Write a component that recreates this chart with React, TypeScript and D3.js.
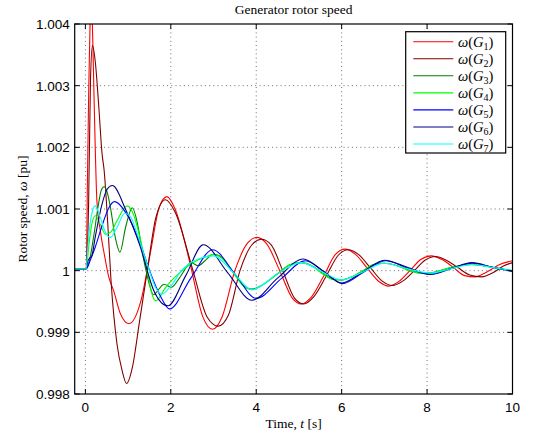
import React from "react";
import * as d3 from "d3";

const TITLE = "Generator rotor speed";
const X_TICKS = [0, 2, 4, 6, 8, 10];
const Y_TICKS = [0.998, 0.999, 1.0, 1.001, 1.002, 1.003, 1.004];
const Y_TICK_LABELS = ["0.998", "0.999", "1", "1.001", "1.002", "1.003", "1.004"];
const SERIES_NAMES = ["1", "2", "3", "4", "5", "6", "7"];
const SERIES_COLORS = ["#ff0000", "#800000", "#008000", "#00ff00", "#0000ff", "#000080", "#00ffff"];

const G1: [number, number][] = [
  [-0.25, 1.00003], [0.02, 1.00003], [0.047, 1.0014], [0.08, 1.003], [0.11, 1.004], [0.135, 1.0044],
  [0.16, 1.0041], [0.2, 1.0029], [0.27, 1.00113], [0.35, 1.00065], [0.45, 1.00024], [0.55, 0.99989],
  [0.66, 0.99968], [0.82, 0.9993], [1.02, 0.99914], [1.3, 0.99951], [1.53, 1.00032], [1.73, 1.00103],
  [1.91, 1.0012], [2.1, 1.001], [2.45, 1.00012], [2.75, 0.99925], [2.98, 0.99905], [3.2, 0.99925],
  [3.5, 1.0], [3.8, 1.00045], [4.02, 1.00054], [4.25, 1.00043], [4.55, 1.0], [4.85, 0.99955],
  [5.05, 0.99946], [5.3, 0.99958], [5.57, 0.9999], [5.85, 1.00026], [6.08, 1.00035], [6.33, 1.00026],
  [6.6, 1.00004], [6.88, 0.99982], [7.1, 0.99975], [7.35, 0.99983], [7.6, 1.0], [7.85, 1.00018],
  [8.1, 1.00024], [8.35, 1.00018], [8.62, 1.00005], [8.88, 0.99992], [9.12, 0.9999], [9.4, 0.99998],
  [9.7, 1.0001], [10, 1.00016],
];
const G2: [number, number][] = [
  [-0.25, 1.00003], [0.02, 1.00003], [0.076, 1.0011], [0.12, 1.0031], [0.166, 1.00365], [0.23, 1.0034],
  [0.31, 1.0027], [0.39, 1.0019], [0.44, 1.00162], [0.52, 1.00081], [0.6, 0.99984], [0.74, 0.99881],
  [0.86, 0.99838], [0.965, 0.99817], [1.1, 0.99843], [1.26, 0.99914], [1.46, 1.00005], [1.65, 1.00086],
  [1.875, 1.00115], [2.1, 1.00095], [2.5, 1.00005], [2.85, 0.99925], [3.11, 0.9991], [3.35, 0.99928],
  [3.62, 1.0], [3.9, 1.00042], [4.12, 1.00051], [4.35, 1.00042], [4.62, 1.0], [4.9, 0.99955],
  [5.11, 0.99946], [5.35, 0.99958], [5.63, 0.9999], [5.92, 1.00025], [6.16, 1.00034], [6.4, 1.00026],
  [6.68, 1.00004], [6.95, 0.99983], [7.19, 0.99976], [7.43, 0.99983], [7.7, 1.0], [7.95, 1.00017],
  [8.2, 1.00023], [8.45, 1.00017], [8.72, 1.00005], [9.0, 0.99993], [9.27, 0.9999], [9.55, 0.99997],
  [9.8, 1.00008], [10, 1.00013],
];
const G3: [number, number][] = [
  [-0.25, 1.00003], [0.02, 1.00003], [0.1, 1.00018], [0.2, 1.00058], [0.3, 1.00105], [0.37, 1.0013],
  [0.44, 1.00136], [0.52, 1.00125], [0.585, 1.00103], [0.7, 1.00054], [0.81, 1.0003], [0.94, 1.0007],
  [1.1, 1.00102], [1.22, 1.00076], [1.34, 1.00027], [1.42, 1.0], [1.6, 0.99961], [1.72, 0.9997],
  [1.84, 0.99978], [2.01, 0.99973], [2.2, 0.99988], [2.48, 1.00013], [2.64, 1.00008], [2.8, 1.00016],
  [3.0, 1.00027], [3.2, 1.00021], [3.45, 0.99998], [3.7, 0.99976], [3.9, 0.9997], [4.1, 0.99975],
  [4.5, 0.99995], [4.8, 1.0001], [5.05, 1.00013], [5.3, 1.00008], [5.55, 0.99996], [5.8, 0.99986],
  [6.0, 0.99985], [6.25, 0.9999], [6.5, 1.0], [6.75, 1.0001], [7.0, 1.00012], [7.3, 1.00008],
  [7.6, 1.0], [7.85, 0.99996], [8.05, 0.99996], [8.3, 1.0], [8.6, 1.00006], [9.05, 1.0001],
  [9.5, 1.00006], [10, 1.0],
];
const G4: [number, number][] = [
  [-0.25, 1.00003], [0.02, 1.00003], [0.08, 1.0004], [0.15, 1.00075], [0.23, 1.00089], [0.35, 1.00075],
  [0.47, 1.00059], [0.6, 1.00063], [0.74, 1.00081], [0.98, 1.00105], [1.1, 1.00095], [1.22, 1.0007],
  [1.34, 1.00035], [1.46, 0.99995], [1.56, 0.99962], [1.65, 0.99951], [1.75, 0.99958], [1.85, 0.9997],
  [2.09, 0.99989], [2.48, 1.00011], [2.8, 1.00022], [3.0, 1.00026], [3.2, 1.0002], [3.45, 0.99998],
  [3.7, 0.99975], [3.9, 0.99969], [4.1, 0.99975], [4.5, 0.99995], [4.8, 1.0001], [5.05, 1.00013],
  [5.3, 1.00008], [5.55, 0.99995], [5.8, 0.99986], [6.0, 0.99985], [6.25, 0.9999], [6.5, 1.0],
  [6.75, 1.0001], [7.0, 1.00012], [7.3, 1.00008], [7.6, 1.0], [7.85, 0.99996], [8.05, 0.99996],
  [8.3, 1.0], [8.6, 1.00006], [9.05, 1.0001], [9.5, 1.00006], [10, 1.0],
];
const G5: [number, number][] = [
  [-0.25, 1.00003], [0.02, 1.00003], [0.11, 1.00016], [0.23, 1.00038], [0.43, 1.00081], [0.55, 1.00102],
  [0.68, 1.00112], [1.0, 1.00088], [1.33, 1.00035], [1.53, 0.99995], [1.77, 0.99957], [1.97, 0.99938],
  [2.47, 0.99988], [2.98, 1.00034], [3.5, 0.99995], [4.0, 0.99955], [4.6, 0.99988], [5.15, 1.00016],
  [5.6, 0.99998], [6.02, 0.99979], [6.5, 0.99997], [7.02, 1.00016], [7.55, 1.00004], [8.07, 0.99994],
  [8.55, 1.00003], [9.06, 1.00012], [9.55, 1.00005], [10, 0.99999],
];
const G6: [number, number][] = [
  [-0.25, 1.00003], [0.02, 1.00003], [0.06, 1.00016], [0.11, 1.00021], [0.15, 1.00024], [0.23, 1.00054],
  [0.39, 1.00108], [0.51, 1.00132], [0.63, 1.00138], [0.95, 1.00098], [1.28, 1.0004], [1.6, 0.99968],
  [1.93, 0.99943], [2.35, 0.99992], [2.76, 1.00042], [3.33, 0.99997], [3.9, 0.99952], [4.5, 0.99988],
  [5.1, 1.00019], [5.55, 1.0], [6.0, 0.9998], [6.5, 0.99998], [7.0, 1.00017], [7.55, 1.00005],
  [8.05, 0.99994], [8.55, 1.00003], [9.05, 1.00013], [9.55, 1.00005], [10, 0.99999],
];
const G7: [number, number][] = [
  [-0.25, 1.00003], [0.02, 1.00003], [0.06, 1.0004], [0.11, 1.00076], [0.17, 1.00098], [0.23, 1.00105],
  [0.35, 1.00086], [0.47, 1.00062], [0.585, 1.00054], [0.74, 1.0007], [0.92, 1.00093], [1.05, 1.00088],
  [1.22, 1.00058], [1.46, 1.00008], [1.65, 0.99972], [1.79, 0.99962], [2.0, 0.99975], [2.25, 1.0],
  [2.64, 1.00019], [3.0, 1.00024], [3.45, 0.99998], [3.9, 0.99969], [4.5, 0.99995], [5.05, 1.00013],
  [5.55, 0.99998], [6.0, 0.99985], [6.5, 0.99998], [7.0, 1.00012], [7.55, 1.00003], [8.08, 0.99996],
  [8.55, 1.00003], [9.05, 1.0001], [9.55, 1.00005], [10, 1.0],
];
const SERIES = [G1, G2, G3, G4, G5, G6, G7];

const W = 534;
const H = 436;
const L = 74.7, R = 512.5, T = 24, B = 394;

export default function App() {
  const x = d3.scaleLinear().domain([-0.25, 10]).range([L, R]);
  const y = d3.scaleLinear().domain([0.998, 1.004]).range([B, T]);
  const line = d3
    .line<[number, number]>()
    .x((d) => x(d[0]))
    .y((d) => y(d[1]))
    .curve(d3.curveMonotoneX);
  const sans = "'Liberation Sans', Arial, sans-serif";
  const serif = "'Liberation Serif', 'DejaVu Serif', serif";
  const tickLen = 5;
  const legX = 405.7, legY = 31.7, legW = 100, legH = 121.3;
  return (
    <svg width={W} height={H} style={{ position: "absolute", left: 0, top: 0, background: "#fff" }}>
      <defs>
        <clipPath id="plotclip">
          <rect x={L} y={T} width={R - L} height={B - T} />
        </clipPath>
      </defs>
      <rect x={0} y={0} width={W} height={H} fill="#fff" />
      <g stroke="#000" strokeWidth={0.8} strokeDasharray="1,3.2" opacity={0.7}>
        {X_TICKS.filter((t) => x(t) < R - 1).map((t) => (
          <line key={"gx" + t} x1={x(t)} x2={x(t)} y1={T} y2={B} />
        ))}
        {Y_TICKS.filter((v) => y(v) > T + 1 && y(v) < B - 1).map((v) => (
          <line key={"gy" + v} x1={L} x2={R} y1={y(v)} y2={y(v)} />
        ))}
      </g>
      <g clipPath="url(#plotclip)" fill="none">
        {SERIES.map((s, i) => (
          <path key={i} d={line(s) || ""} stroke={SERIES_COLORS[i]} strokeWidth={1.1} />
        ))}
      </g>
      <rect x={L} y={T} width={R - L} height={B - T} fill="none" stroke="#000" strokeWidth={1.2} />
      <g stroke="#000" strokeWidth={1}>
        {X_TICKS.map((t) => (
          <g key={"tx" + t}>
            <line x1={x(t)} x2={x(t)} y1={B} y2={B - tickLen} />
            <line x1={x(t)} x2={x(t)} y1={T} y2={T + tickLen} />
          </g>
        ))}
        {Y_TICKS.map((v) => (
          <g key={"ty" + v}>
            <line x1={L} x2={L + tickLen} y1={y(v)} y2={y(v)} />
            <line x1={R} x2={R - tickLen} y1={y(v)} y2={y(v)} />
          </g>
        ))}
      </g>
      <g fontFamily={sans} fontSize={13.5} fill="#000">
        {X_TICKS.map((t) => (
          <text key={"lx" + t} x={x(t)} y={411.5} textAnchor="middle">
            {t}
          </text>
        ))}
        {Y_TICKS.map((v, i) => (
          <text key={"ly" + v} x={L - 5} y={y(v)} dy="0.36em" textAnchor="end">
            {Y_TICK_LABELS[i]}
          </text>
        ))}
      </g>
      <text x={(L + R) / 2} y={14} textAnchor="middle" fontFamily={serif} fontSize={13.5}>
        {TITLE}
      </text>
      <text x={(L + R) / 2} y={428} textAnchor="middle" fontFamily={serif} fontSize={13.5}>
        Time, <tspan fontStyle="italic">t</tspan> [s]
      </text>
      <text
        transform={`translate(27,${(T + B) / 2}) rotate(-90)`}
        textAnchor="middle"
        fontFamily={serif}
        fontSize={13.5}
      >
        Rotor speed, <tspan fontStyle="italic">ω</tspan> [pu]
      </text>
      <rect x={legX} y={legY} width={legW} height={legH} fill="#fff" stroke="#000" strokeWidth={1.2} />
      {SERIES_NAMES.map((n, i) => {
        const yy = legY + 10 + i * 17.05;
        return (
          <g key={"leg" + i}>
            <line x1={413.3} x2={453.3} y1={yy} y2={yy} stroke={SERIES_COLORS[i]} strokeWidth={1.1} />
            <text x={458} y={yy} dy="0.35em" fontFamily={serif} fontSize={14.5}>
              <tspan fontStyle="italic">ω</tspan>(<tspan fontStyle="italic">G</tspan>
              <tspan fontSize={10} dy={3}>{n}</tspan>
              <tspan dy={-3}>)</tspan>
            </text>
          </g>
        );
      })}
    </svg>
  );
}
